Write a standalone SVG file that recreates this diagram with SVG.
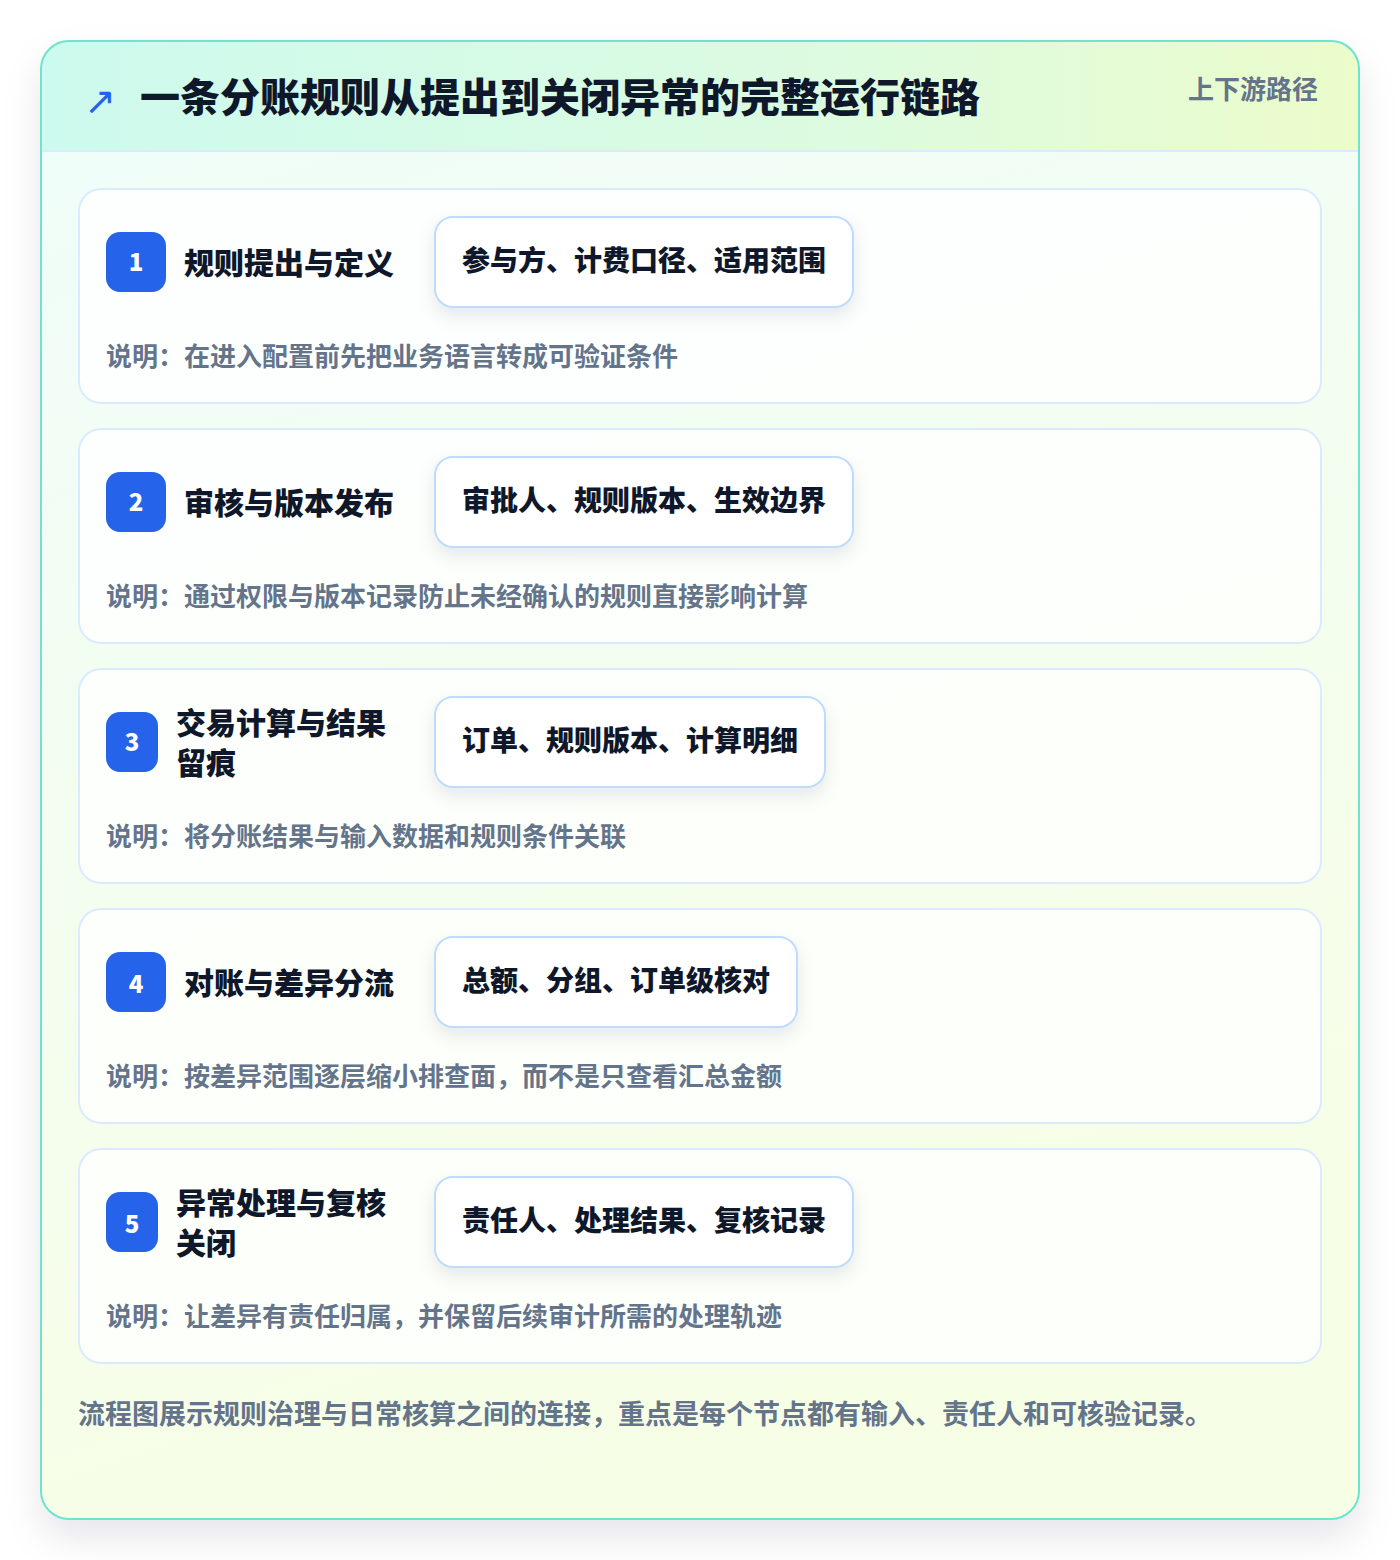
<svg xmlns="http://www.w3.org/2000/svg" width="1400" height="1560" viewBox="0 0 1400 1560">
<defs>
<linearGradient id="hdr" x1="0" y1="0" x2="1" y2="0">
<stop offset="0" stop-color="#cdfaee"/>
<stop offset="0.6" stop-color="#dcfbe0"/>
<stop offset="1" stop-color="#ecfccb"/>
</linearGradient>
<linearGradient id="body" x1="0" y1="0" x2="0.3" y2="1">
<stop offset="0" stop-color="#effdfa"/>
<stop offset="1" stop-color="#f7fee6"/>
</linearGradient>
<filter id="shadow" x="-10%" y="-10%" width="120%" height="120%">
<feDropShadow dx="0" dy="18" stdDeviation="18" flood-color="#0f172a" flood-opacity="0.10"/>
</filter>
<filter id="pshadow" x="-20%" y="-30%" width="140%" height="170%">
<feDropShadow dx="0" dy="8" stdDeviation="9" flood-color="#0f172a" flood-opacity="0.09"/>
</filter>
<clipPath id="outerClip"><rect x="41" y="41" width="1318" height="1478" rx="28"/></clipPath>
</defs>
<style>
.cjk{font-family:"Noto Sans CJK SC","Noto Sans",sans-serif;}
.title{font-size:40px;font-weight:900;fill:#0f172a;}
.tag{font-size:26px;font-weight:700;fill:#64748b;}
.card{fill:#ffffff;fill-opacity:0.78;stroke:#dbeafe;stroke-width:2;}
.badge{fill:#2563eb;}
.num{font-family:"Noto Sans CJK SC","Noto Sans",sans-serif;font-size:24px;font-weight:900;fill:#ffffff;}
.ntitle{font-size:30px;font-weight:800;fill:#0f172a;}
.pill{fill:#ffffff;stroke:#bfdbfe;stroke-width:2;}
.ptext{font-size:28px;font-weight:800;fill:#0f172a;}
.desc{font-size:26px;font-weight:700;fill:#64748b;}
.foot{font-size:27px;font-weight:700;fill:#64748b;}
</style>
<rect x="0" y="0" width="1400" height="1560" fill="#ffffff"/>
<g id="frame">
<rect x="41" y="41" width="1318" height="1478" rx="28" fill="url(#body)" filter="url(#shadow)"/>
<g clip-path="url(#outerClip)">
<rect x="41" y="41" width="1318" height="110" fill="url(#hdr)"/>
<line x1="41" y1="151" x2="1359" y2="151" stroke="#dbeafe" stroke-width="2"/>
</g>
<rect x="41" y="41" width="1318" height="1478" rx="28" fill="none" stroke="#6fe3cf" stroke-width="2"/>
</g>
<g id="header">
<text x="84" y="114" font-family="'DejaVu Sans',sans-serif" font-size="38" fill="#2563eb">↗</text>
<text class="cjk title" x="140" y="112">一条分账规则从提出到关闭异常的完整运行链路</text>
<text class="cjk tag" x="1318" y="99" text-anchor="end">上下游路径</text>
</g>
<g id="connectors"></g>
<g id="node1">
<rect class="card" x="79" y="189" width="1242" height="214" rx="22"/>
<rect class="badge" x="106" y="232" width="60" height="60" rx="14"/>
<text class="num" x="136" y="271" text-anchor="middle">1</text>
<text class="cjk ntitle" x="184" y="274">规则提出与定义</text>
<rect class="pill" x="435" y="217" width="418" height="90" rx="18" filter="url(#pshadow)"/>
<text class="cjk ptext" x="462" y="271">参与方、计费口径、适用范围</text>
<text class="cjk desc" x="106" y="366">说明：在进入配置前先把业务语言转成可验证条件</text>
</g>
<g id="node2">
<rect class="card" x="79" y="429" width="1242" height="214" rx="22"/>
<rect class="badge" x="106" y="472" width="60" height="60" rx="14"/>
<text class="num" x="136" y="511" text-anchor="middle">2</text>
<text class="cjk ntitle" x="184" y="514">审核与版本发布</text>
<rect class="pill" x="435" y="457" width="418" height="90" rx="18" filter="url(#pshadow)"/>
<text class="cjk ptext" x="462" y="511">审批人、规则版本、生效边界</text>
<text class="cjk desc" x="106" y="606">说明：通过权限与版本记录防止未经确认的规则直接影响计算</text>
</g>
<g id="node3">
<rect class="card" x="79" y="669" width="1242" height="214" rx="22"/>
<rect class="badge" x="106" y="712" width="52" height="60" rx="14"/>
<text class="num" x="132" y="751" text-anchor="middle">3</text>
<text class="cjk ntitle" x="176" y="734">交易计算与结果</text>
<text class="cjk ntitle" x="176" y="774">留痕</text>
<rect class="pill" x="435" y="697" width="390" height="90" rx="18" filter="url(#pshadow)"/>
<text class="cjk ptext" x="462" y="751">订单、规则版本、计算明细</text>
<text class="cjk desc" x="106" y="846">说明：将分账结果与输入数据和规则条件关联</text>
</g>
<g id="node4">
<rect class="card" x="79" y="909" width="1242" height="214" rx="22"/>
<rect class="badge" x="106" y="952" width="60" height="60" rx="14"/>
<text class="num" x="136" y="993" text-anchor="middle">4</text>
<text class="cjk ntitle" x="184" y="994">对账与差异分流</text>
<rect class="pill" x="435" y="937" width="362" height="90" rx="18" filter="url(#pshadow)"/>
<text class="cjk ptext" x="462" y="991">总额、分组、订单级核对</text>
<text class="cjk desc" x="106" y="1086">说明：按差异范围逐层缩小排查面，而不是只查看汇总金额</text>
</g>
<g id="node5">
<rect class="card" x="79" y="1149" width="1242" height="214" rx="22"/>
<rect class="badge" x="106" y="1192" width="52" height="60" rx="14"/>
<text class="num" x="132" y="1233" text-anchor="middle">5</text>
<text class="cjk ntitle" x="176" y="1214">异常处理与复核</text>
<text class="cjk ntitle" x="176" y="1254">关闭</text>
<rect class="pill" x="435" y="1177" width="418" height="90" rx="18" filter="url(#pshadow)"/>
<text class="cjk ptext" x="462" y="1231">责任人、处理结果、复核记录</text>
<text class="cjk desc" x="106" y="1326">说明：让差异有责任归属，并保留后续审计所需的处理轨迹</text>
</g>
<g id="footer">
<text class="cjk foot" x="78" y="1424">流程图展示规则治理与日常核算之间的连接，重点是每个节点都有输入、责任人和可核验记录。</text>
</g>
</svg>
